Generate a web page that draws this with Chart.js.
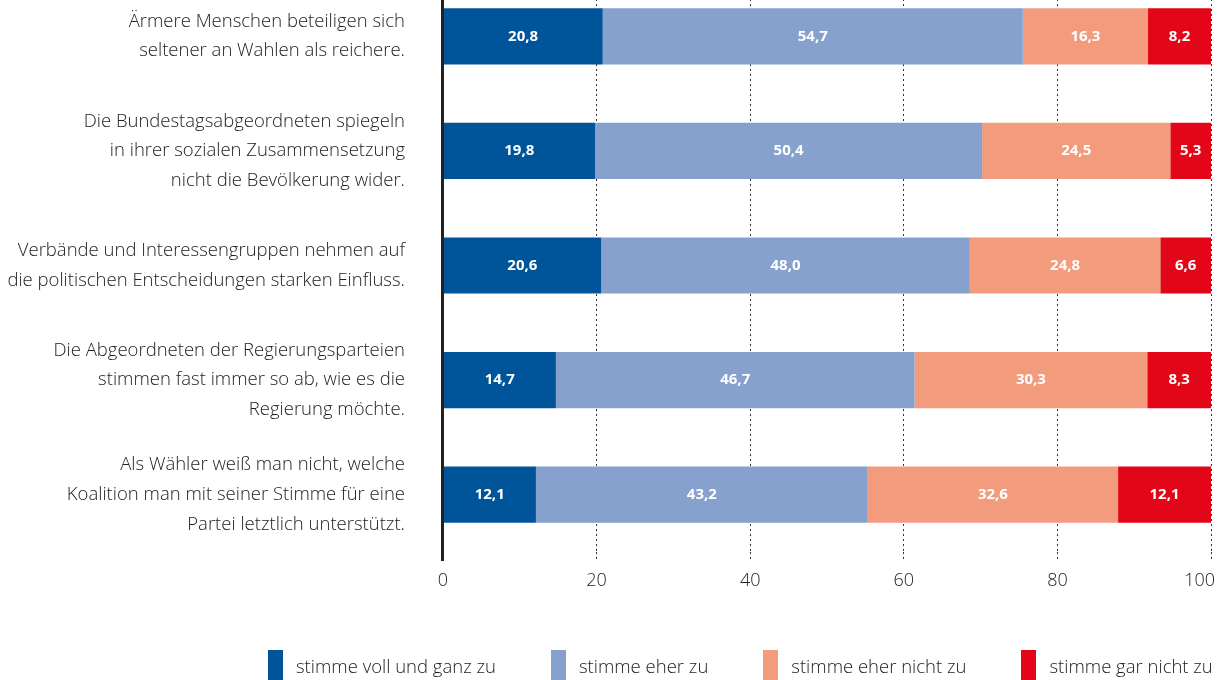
<!DOCTYPE html>
<html lang="de">
<head>
<meta charset="utf-8">
<title>Einstellungen zur Repräsentation</title>
<script src="https://cdn.jsdelivr.net/npm/chart.js@4/dist/chart.umd.min.js"></script>
<style>
  body { margin: 0; background: #fff; }
  #wrap { position: relative; width: 1224px; height: 680px; overflow: hidden; }
  /* canvas starts a bit above the page so the first bar sits close to the top edge */
  #chart { position: absolute; left: 0; top: -21px; }
  #legend {
    position: absolute; left: 268px; top: 650px; height: 30px;
    display: flex; gap: 55px;
    font-family: "Open Sans", sans-serif; font-weight: 300; font-size: 18.5px; color: #222;
  }
  #legend .item { display: flex; align-items: center; gap: 13px; }
  #legend .box { width: 15px; height: 30px; }
</style>
</head>
<body>
<div id="wrap">
  <canvas id="chart" width="1224" height="701"></canvas>
  <div id="legend"></div>
</div>
<script>
const categories = [
    ['Ärmere Menschen beteiligen sich', 'seltener an Wahlen als reichere.'],
    ['Die Bundestagsabgeordneten spiegeln', 'in ihrer sozialen Zusammensetzung', 'nicht die Bevölkerung wider.'],
    ['Verbände und Interessengruppen nehmen auf', 'die politischen Entscheidungen starken Einfluss.'],
    ['Die Abgeordneten der Regierungsparteien', 'stimmen fast immer so ab, wie es die', 'Regierung möchte.'],
    ['Als Wähler weiß man nicht, welche', 'Koalition man mit seiner Stimme für eine', 'Partei letztlich unterstützt.']
];

const seriesNames = ['stimme voll und ganz zu', 'stimme eher zu', 'stimme eher nicht zu', 'stimme gar nicht zu'];
const vollUndGanz = [20.8, 19.8, 20.6, 14.7, 12.1];
const eherZu = [54.7, 50.4, 48.0, 46.7, 43.2];
const eherNicht = [16.3, 24.5, 24.8, 30.3, 32.6];
const garNicht = [8.2, 5.3, 6.6, 8.3, 12.1];
const xTicks = [0, 20, 40, 60, 80, 100];

const colors = ['#00559a', '#86a1cd', '#f29b7d', '#e30618'];
const textColor = '#222';
const fontFamily = '"Open Sans", sans-serif';

// white value labels in the middle of each segment
const valueLabels = {
    id: 'valueLabels',
    afterDatasetsDraw(chart) {
        const ctx = chart.ctx;
        ctx.save();
        ctx.fillStyle = '#fff';
        ctx.font = 'bold 15px ' + fontFamily;
        ctx.textAlign = 'center';
        ctx.textBaseline = 'middle';
        chart.data.datasets.forEach((ds, i) => {
            chart.getDatasetMeta(i).data.forEach((bar, j) => {
                const txt = ds.data[j].toFixed(1).replace('.', ',');
                ctx.fillText(txt, (bar.x + bar.base) / 2, bar.y);
            });
        });
        ctx.restore();
    }
};

// solid left axis, running a little past the bottom like the grid ticks
const leftAxis = {
    id: 'leftAxis',
    afterDraw(chart) {
        const ctx = chart.ctx;
        const area = chart.chartArea;
        const x = chart.scales.x.getPixelForValue(0);
        ctx.save();
        ctx.strokeStyle = '#222';
        ctx.lineWidth = 3;
        ctx.beginPath();
        ctx.moveTo(x - 0.5, 0);
        ctx.lineTo(x - 0.5, area.bottom + 9);
        ctx.stroke();
        ctx.restore();
    }
};

// keep the "100" label inside the canvas: right-align the last x tick label
const lastTickInside = {
    id: 'lastTickInside',
    beforeDraw(chart) {
        const items = chart.scales.x.getLabelItems();
        const last = items[items.length - 1];
        if (last) {
            last.options.textAlign = 'right';
            last.options.translation = [last.options.translation[0] + 4, last.options.translation[1]];
        }
    }
};

const datasets = [vollUndGanz, eherZu, eherNicht, garNicht].map((values, i) => ({
    label: seriesNames[i],
    data: values,
    backgroundColor: colors[i],
    borderWidth: 0,
    categoryPercentage: 1,
    barPercentage: 0.49
}));

new Chart(document.getElementById('chart'), {
    type: 'bar',
    data: { labels: categories, datasets: datasets },
    options: {
        indexAxis: 'y',
        responsive: false,
        animation: false,
        layout: { padding: { top: 0, left: 0, right: 13, bottom: 84 } },
        plugins: {
            legend: { display: false },
            tooltip: { enabled: false }
        },
        scales: {
            x: {
                stacked: true,
                min: 0,
                max: 100,
                afterBuildTicks: s => { s.ticks = xTicks.map(v => ({ value: v })); },
                afterFit: s => { s.height = 44; s.paddingLeft = 0; s.paddingRight = 0; },
                border: { display: false, dash: [2, 3] },
                grid: {
                    color: c => c.tick && c.tick.value === 0 ? 'rgba(0,0,0,0)' : '#333',
                    lineWidth: 1,
                    tickLength: 9,
                    tickBorderDash: [2, 3],
                    tickColor: c => c.tick && c.tick.value === 0 ? 'rgba(0,0,0,0)' : '#333'
                },
                ticks: {
                    padding: 9,
                    color: textColor,
                    font: { family: fontFamily, size: 18, weight: 300 }
                }
            },
            y: {
                stacked: true,
                afterFit: s => { s.width = 443; s.paddingTop = 0; s.paddingBottom = 0; },
                border: { display: false },
                grid: { display: false, drawTicks: false },
                ticks: {
                    padding: 38,
                    color: textColor,
                    font: { family: fontFamily, size: 18.5, weight: 300, lineHeight: 1.6 }
                }
            }
        }
    },
    plugins: [valueLabels, leftAxis, lastTickInside]
});

// legend
const legend = document.getElementById('legend');
seriesNames.forEach((name, i) => {
    const item = document.createElement('div');
    item.className = 'item';
    const box = document.createElement('span');
    box.className = 'box';
    box.style.background = colors[i];
    const label = document.createElement('span');
    label.textContent = name;
    item.appendChild(box);
    item.appendChild(label);
    legend.appendChild(item);
});
</script>
</body>
</html>
